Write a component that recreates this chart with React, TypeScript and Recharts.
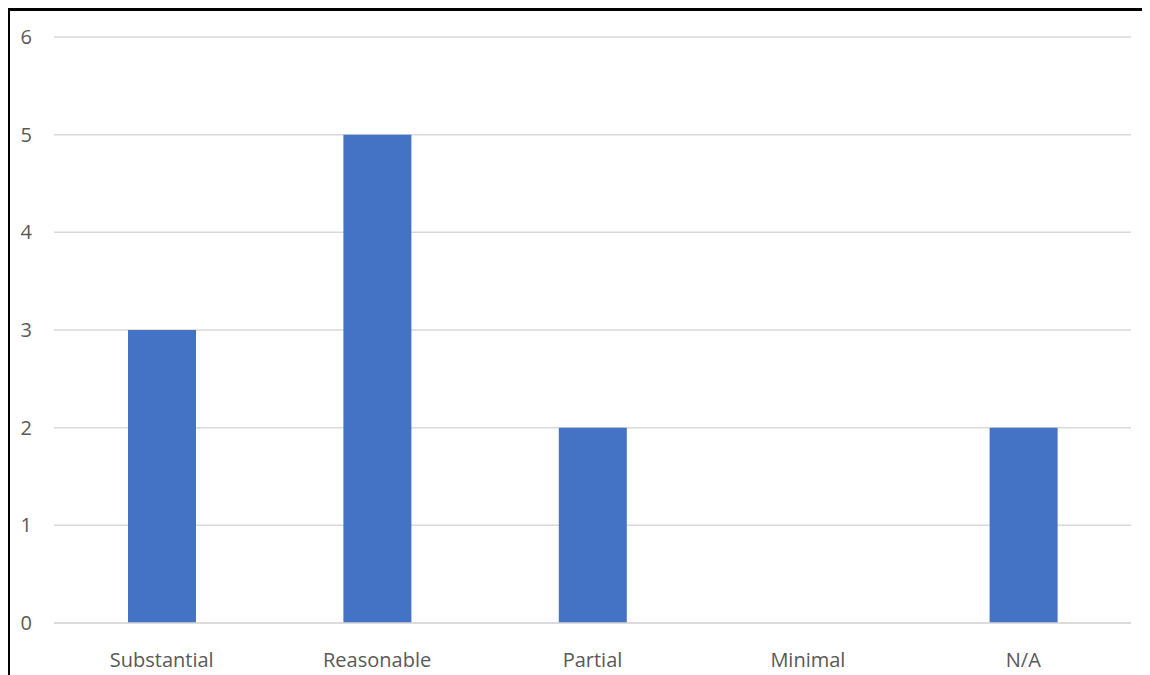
import { BarChart, Bar, XAxis, YAxis, CartesianGrid } from "recharts";

const categories = ["Substantial", "Reasonable", "Partial", "Minimal", "N/A"];
const counts = [3, 5, 2, 0, 2];
const yTicks = [0, 1, 2, 3, 4, 5, 6];

const data = categories.map((name, i) => ({ name, value: counts[i] }));

const tickStyle = { fill: "#595959", fontSize: 20, fontFamily: "'Open Sans', sans-serif" };

export default function App() {
  return (
    <div
      style={{
        width: 1143,
        height: 667,
        marginLeft: -1,
        borderTop: "3px solid #000",
        borderLeft: "3px solid #000",
        boxSizing: "border-box",
        background: "#fff",
      }}
    >
      <BarChart
        width={1140}
        height={664}
        data={data}
        margin={{ top: 26, right: 19, left: 0, bottom: 22 }}
      >
        <CartesianGrid vertical={false} stroke="#d9d9d9" strokeWidth={1.5} />
        <XAxis
          dataKey="name"
          height={30}
          axisLine={{ stroke: "#d9d9d9", strokeWidth: 1.5 }}
          tickLine={false}
          tickSize={0}
          tickMargin={30}
          tick={tickStyle}
        />
        <YAxis
          width={44}
          domain={[0, 6]}
          ticks={yTicks}
          axisLine={false}
          tickLine={false}
          tickSize={0}
          tickMargin={22}
          tick={tickStyle}
        />
        <Bar dataKey="value" fill="#4472C4" barSize={68} isAnimationActive={false} />
      </BarChart>
    </div>
  );
}
